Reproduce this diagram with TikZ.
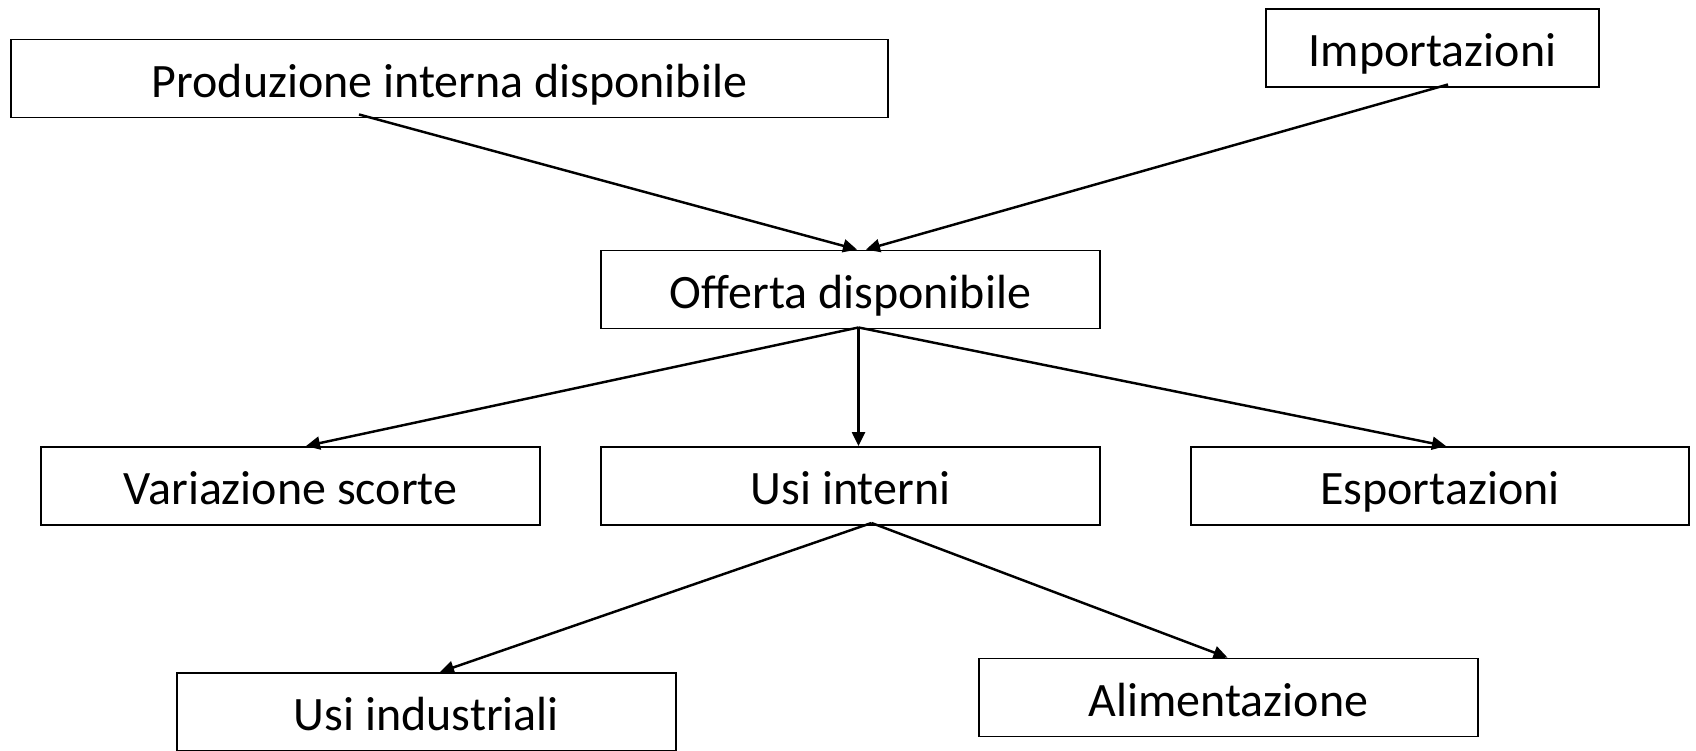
\documentclass[tikz,border=0pt]{standalone}
\usepackage{fontspec}
\setmainfont{Carlito}
\usetikzlibrary{arrows.meta}

\begin{document}
\begin{tikzpicture}[
    box/.style={draw, line width=1.1pt, minimum height=1.56cm, inner sep=0pt,
      text height=0.78cm, text depth=0.04cm, font=\fontsize{27.3}{33}\selectfont},
    flow/.style={line width=1.4pt, -{Triangle[length=0.28cm, width=0.26cm]}}
  ]
    \useasboundingbox (0,0) rectangle (33.92,-15);

    \node[box, minimum width=17.54cm] (prod) at (8.99,-1.57) {Produzione interna disponibile};
    \node[box, minimum width=6.66cm] (imp) at (28.65,-0.96) {Importazioni};
    \node[box, minimum width=9.98cm] (off) at (17.01,-5.79) {Offerta disponibile};

    \node[box, minimum width=9.98cm] (var) at (5.81,-9.72) {Variazione scorte};
    \node[box, minimum width=9.98cm] (usi) at (17.01,-9.72) {Usi interni};
    \node[box, minimum width=9.96cm] (esp) at (28.80,-9.72) {Esportazioni};

    \node[box, minimum width=9.98cm] (ind) at (8.53,-14.24) {Usi industriali};
    \node[box, minimum width=9.98cm] (ali) at (24.57,-13.95) {Alimentazione};

    \draw[flow] ([shift={(-1.81,0.08)}]prod.south) -- ([xshift=0.13cm]off.north);
    \draw[flow] ([shift={(0.31,0.07)}]imp.south) -- ([xshift=0.31cm]off.north);

    \draw[flow] ([shift={(0.16,0.04)}]off.south) -- ([xshift=0.31cm]var.north);
    \draw[flow] ([shift={(0.16,0.04)}]off.south) -- ([xshift=0.16cm]usi.north);
    \draw[flow] ([shift={(0.16,0.04)}]off.south) -- ([xshift=0.12cm]esp.north);

    \draw[flow] ([shift={(0.42,0.06)}]usi.south) -- ([xshift=0.27cm]ind.north);
    \draw[flow] ([shift={(0.42,0.06)}]usi.south) -- ([xshift=-0.02cm]ali.north);
  \end{tikzpicture}
\end{document}
